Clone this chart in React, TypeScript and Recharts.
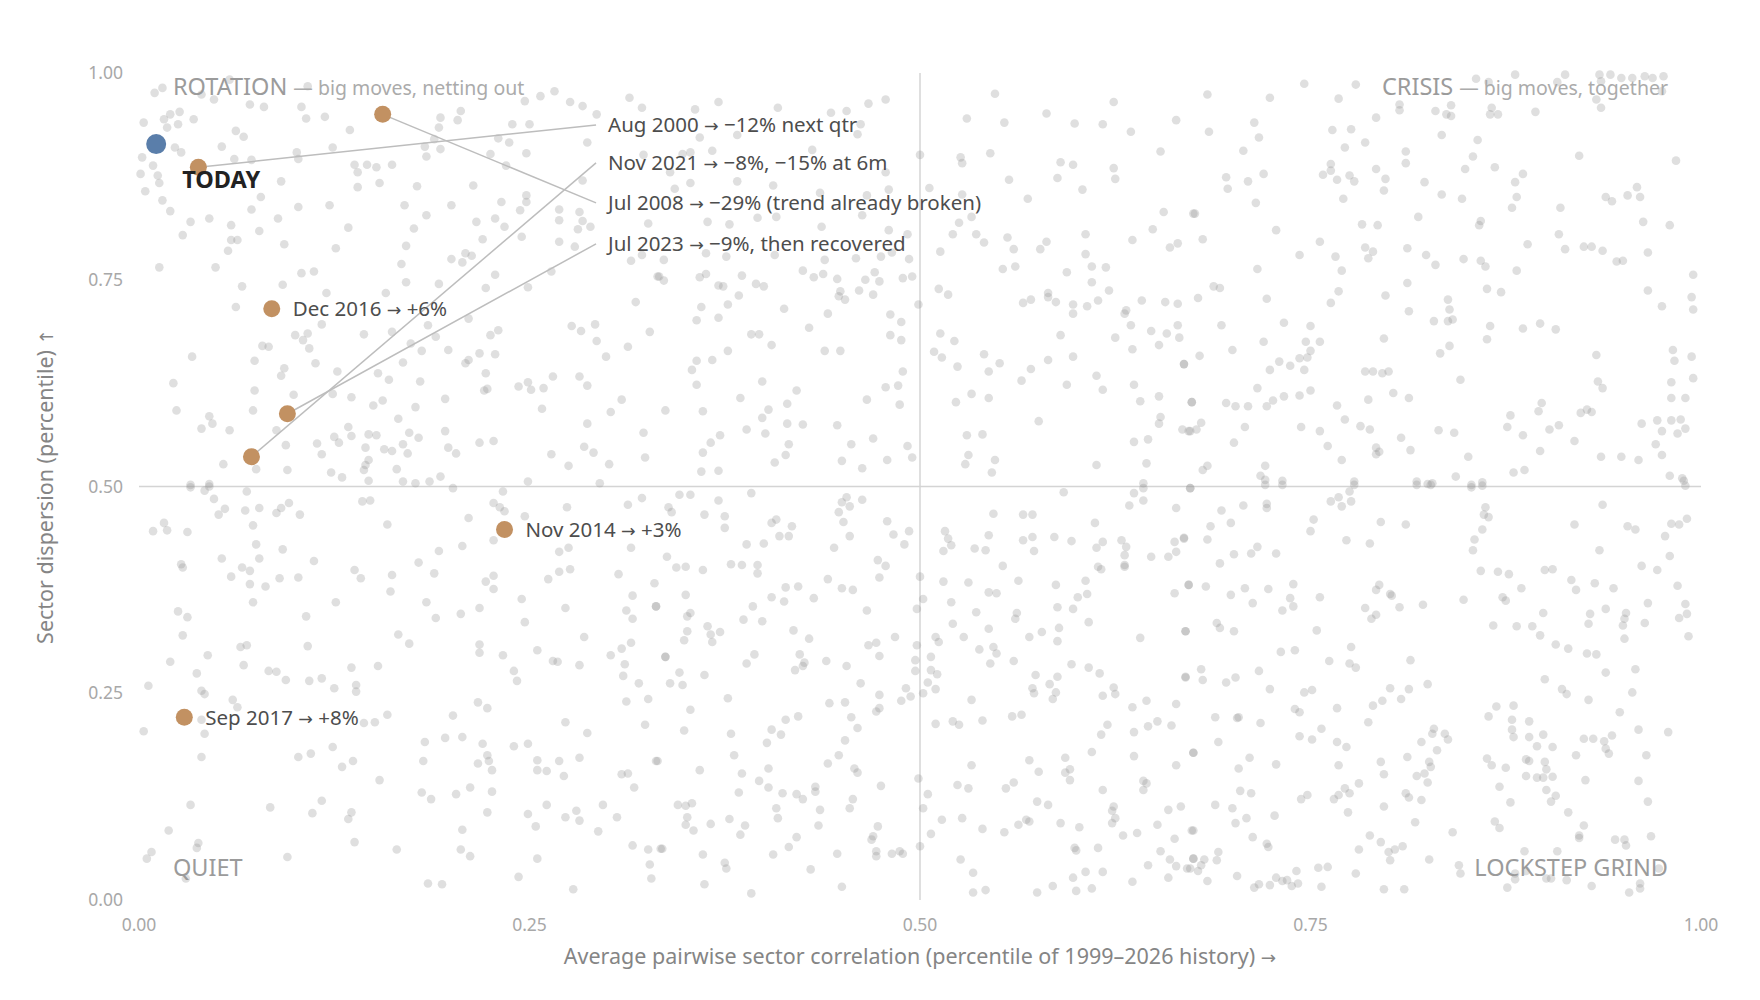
import { ReferenceLine, Scatter, ScatterChart, XAxis, YAxis } from "recharts";

const FONT = "'Segoe UI', 'Noto Sans', 'Open Sans', sans-serif";
const ARROW_FONT = "'DejaVu Sans', sans-serif";
const TAN = "#c29162";
const BLUE = "#5a7eaa";

const axisTicks = [0, 0.25, 0.5, 0.75, 1];

// history cloud: [pairwise correlation pct, dispersion pct] in thousandths, read region by region
const cloudNW = [
  [58,992],[10,976],[15,982],[40,974],[48,968],[108,984],[266,978],[257,972],[314,970],
  [71,962],[80,959],[104,959],[247,966],[276,965],[284,960],[322,958],[206,954],[26,953],[20,950],[293,950],[35,944],[16,944],[193,946],[107,945],[119,947],[3,940],[204,943],[25,938],[239,938],[250,938],
  [18,934],[62,930],[135,931],[192,934],[67,923],[189,920],[230,921],[237,916],[287,916],[53,911],[23,910],[124,910],[183,911],[193,908],[27,904],[101,904],[225,902],[248,903],[184,899],[2,898],[61,896],[72,895],[102,896],[323,901],
  [138,889],[146,889],[152,886],[162,889],[9,888],[235,888],[140,880],[1,878],[12,876],[284,870],[91,869],[154,867],[13,867],[214,864],[178,863],[140,862],[4,857],
  [248,852],[78,850],[15,846],[232,844],[248,844],[170,840],[200,840],[122,840],[102,838],[72,835],[244,834],[20,833],[269,835],[282,832],[184,828],[89,824],[228,824],[45,824],[216,820],[33,820],[269,822],[284,821],
  [59,816],[234,814],[134,813],[176,812],[289,814],[326,818],[281,811],[77,809],[28,804],[245,802],[220,799],[59,798],[63,798],[93,793],[269,796],[171,791],[279,790],[126,788],[57,785],[209,782],[213,779],[200,775],[207,771],[168,769],[315,773],[322,780],
  [13,765],[49,765],[264,760],[104,758],[112,760],[228,756],[333,754],[92,744],[66,742],[171,747],[192,745],[249,741],[222,740],[120,734],[158,734],[318,723],
  [62,717],[211,703],[117,696],[185,695],[277,694],[283,688],[292,696],[327,687],[144,684],[162,687],[230,689],[225,683],
  [100,683],[108,685],[105,677],[190,681],[293,676],[79,670],[83,669],[109,667],[174,673],[181,664],[198,665],[313,669],[34,657],[218,661],[228,660],[299,657],
  [74,652],[113,649],[169,650],[211,653],[209,649],[93,643],[127,639],[153,637],[222,637],[91,634],[160,629],[180,627],[265,633],[282,633],[22,625],[249,626],[287,622],[243,621],[259,619],[251,617],[74,616],[124,612],[223,618],[221,616],
  [99,611],[136,608],[196,606],[156,604],[309,605],[150,598],[177,596],[258,594],[24,592],[73,592],[302,590],[45,585],[166,582],[47,576],[287,576],[134,572],
  [40,570],[58,568],[88,568],[196,567],[173,565],[323,565],[125,560],[136,561],[147,563],[152,562],[179,559],[128,553],[114,552],[169,551],[94,550],[218,553],[227,555],[285,548],[145,547],[157,545],[162,543],[198,547],[291,541],[172,540],[203,540],[117,539],[264,539],[324,535],
  [54,527],[145,526],[147,532],[275,525],[301,527],[75,521],[95,520],[123,517],[144,520],[165,521],[130,511],[193,512],[147,507],[169,506],[177,504],[186,506],[249,506],[295,504],[33,502],[45,503],
];

const cloudN = [
  [371,965],[356,956],[409,958],[443,952],[453,954],[467,963],[478,968],[548,975],[624,965],[530,945],[554,940],[581,951],[599,939],[617,938],[635,929],[664,943],[359,922],[383,925],[462,938],[460,926],[353,904],[348,902],[367,906],[431,907],[340,880],[500,901],[526,898],[527,891],[545,903],[654,905],[590,892],[598,889],[624,885],[478,880],[557,871],[588,873],[625,872],[343,860],[353,867],[383,869],[406,864],[436,855],[466,852],[480,859],[506,861],[527,853],[569,848],[604,859],
  [364,820],[378,817],[396,825],[408,826],[437,814],[463,828],[480,810],[492,805],[525,819],[533,826],[521,805],[536,805],[541,795],[556,801],[560,787],[581,796],[577,787],[606,805],[606,781],[636,798],[649,811],[656,832],[660,789],[665,794],[675,830],[336,774],[363,782],[376,778],[407,780],[439,774],[459,776],[475,778],[482,783],[493,775],[513,784],
  [332,754],[336,749],[359,753],[363,757],[386,755],[425,761],[432,753],[438,757],[447,751],[465,750],[471,759],[474,748],[489,752],[495,754],[371,743],[374,742],[395,745],[400,742],[553,763],[561,766],[594,759],[610,766],[619,765],[610,747],[449,736],[461,737],[470,732],[384,731],[448,730],[452,726],[512,739],[518,732],[621,737],[566,722],[571,726],[582,734],[582,729],[587,723],[598,720],[607,718],[614,725],[642,725],[657,723],[665,721],
  [360,717],[377,720],[413,715],[499,720],[631,709],[632,713],[598,709],[357,701],[371,704],[441,709],[481,708],[488,699],[635,695],[665,695],[429,692],[392,684],[397,684],[481,683],[488,677],[513,685],[522,676],[590,683],[625,680],[648,688],[658,685],[666,680],[405,671],[653,671],[377,664],[439,664],[449,664],[509,663],[514,656],[541,660],[636,666],[598,657],
  [357,652],[367,653],[354,641],[489,639],[524,645],[551,649],[544,639],[582,653],[571,642],[669,648],[357,623],[399,627],[478,620],[486,622],[565,628],[594,623],[613,634],[617,617],[637,623],[385,607],[421,616],[466,605],[487,599],[533,612],[544,607],[523,602],[653,609],[641,603],[674,602],
  [337,592],[361,591],[403,593],[415,600],[399,583],[415,576],[425,575],[447,574],[576,579],[654,584],[653,576],[668,569],[673,567],[389,569],[401,564],[372,562],[366,553],[470,558],[456,551],[416,551],[492,549],[530,562],[540,563],[637,554],[646,557],[361,541],[414,538],[495,535],[531,538],[548,532],[450,531],[479,532],[407,529],[529,527],[613,526],[645,528],[463,522],[360,518],[371,519],[546,517],[643,504],
];

const cloudNE = [
  [881,998],[913,998],[935,998],[942,998],[856,993],[864,989],[908,989],[949,994],[956,994],[964,996],[969,994],[976,996],[936,990],[975,978],[746,987],[779,986],[684,974],[724,970],[768,969],[933,968],[807,962],[807,955],[840,961],[866,958],[936,958],[830,954],[837,950],[840,948],[865,950],[870,950],[894,953],[792,946],[714,940],[764,931],[776,932],[685,929],[717,922],[834,925],[857,919],[785,916],[772,910],[707,906],[811,905],[854,899],[922,900],
  [811,891],[763,890],[984,894],[849,884],[868,886],[792,884],[763,882],[758,877],[775,876],[696,874],[720,878],[767,871],[798,872],[778,869],[710,869],[886,878],[881,868],[823,868],[697,860],[797,858],[834,853],[882,850],[939,850],[943,845],[953,852],[959,862],[961,850],[847,848],[771,848],[715,843],[879,837],[910,837],[676,830],[819,826],[783,817],[793,816],[858,816],[859,821],[963,820],[980,816],[728,810],[909,805],
  [681,799],[756,796],[889,793],[925,790],[930,790],[913,787],[937,785],[966,783],[785,789],[790,784],[812,788],[743,780],[766,778],[787,776],[824,780],[848,775],[859,773],[862,766],[830,768],[946,772],[950,773],[716,763],[770,761],[882,761],[995,756],[812,746],[688,742],[692,740],[768,736],[863,739],[872,735],[966,737],[678,728],[722,727],[798,731],[838,726],[994,729],[763,722],[975,718],[839,714],[813,712],[995,714],
  [829,700],[838,700],[841,702],[733,698],[750,694],[693,695],[865,694],[886,691],[897,697],[907,690],[797,679],[720,675],[747,675],[756,675],[863,678],[700,665],[750,664],[982,665],[669,648],[679,658],[839,670],[833,661],[933,659],[983,652],[994,657],[743,655],[748,656],[730,651],[737,646],[724,641],[746,641],[785,639],[790,639],[796,637],[800,639],[846,629],[934,627],[937,619],[995,631],[981,626],[716,619],[803,613],[750,616],
  [674,602],[696,601],[702,597],[710,597],[722,597],[726,604],[733,609],[743,610],[787,605],[813,607],[898,601],[896,591],[981,607],[990,607],[767,598],[923,589],[927,593],[930,590],[878,586],[672,567],[677,569],[680,577],[708,572],[744,572],[756,567],[772,581],[782,573],[788,569],[832,568],[842,565],[876,572],[886,562],[903,569],[909,574],[962,576],[972,580],[981,580],[987,581],[975,567],[985,564],[990,570],
  [808,559],[919,555],[701,553],[761,549],[792,547],[792,539],[794,542],[814,544],[897,543],[971,551],[975,538],[851,536],[936,536],[949,536],[960,532],[770,532],[681,520],[684,525],[721,525],[880,517],[887,520],[980,513],[988,510],[718,513],[721,508],[732,507],[778,506],[818,506],[825,503],[828,504],[843,512],[860,505],[853,502],[989,507],
];

const cloudSW = [
  [33,499],[42,495],[45,500],[69,494],[48,485],[55,473],[51,466],[68,471],[77,474],[91,474],[88,468],[96,480],[103,466],[16,456],[9,446],[18,447],[31,445],[73,453],[143,482],[148,483],[159,454],[233,494],[227,480],[231,475],[234,470],[211,462],[247,464],[201,498],[274,475],[313,478],[322,486],[227,435],[75,430],[92,424],[207,428],[192,422],[269,421],[275,426],[315,426],
  [53,413],[77,413],[112,410],[179,408],[27,406],[28,402],[66,402],[71,398],[138,399],[142,389],[162,393],[189,395],[227,392],[222,385],[227,376],[262,388],[269,397],[276,400],[307,394],[330,383],[59,391],[71,382],[90,389],[102,390],[81,379],[161,373],[73,360],[126,360],[184,360],[245,364],[316,368],[218,353],[273,353],[331,355],[25,349],[31,342],[107,343],[190,341],[206,346],[247,336],[312,350],[316,340],
  [28,320],[166,321],[173,310],[285,318],[65,306],[69,308],[108,307],[218,309],[218,299],[233,296],[255,302],[265,289],[268,288],[282,284],[302,296],[309,304],[315,311],[311,285],[337,294],[44,296],[20,288],[67,284],[136,281],[153,283],[83,277],[88,276],[37,274],[240,277],[242,265],[310,271],[320,262],[6,259],[94,266],[109,265],[117,268],[125,256],[139,260],[139,252],[40,253],[42,249],[60,242],[63,233],[217,239],[223,232],[312,240],[326,243],
  [3,204],[40,218],[42,201],[144,214],[151,215],[159,224],[201,223],[273,215],[287,202],[324,212],[183,191],[196,196],[207,197],[220,189],[240,186],[249,189],[40,173],[102,173],[110,177],[124,185],[130,161],[137,168],[182,168],[223,175],[224,168],[217,165],[226,157],[255,169],[269,168],[282,172],[332,168],[255,157],[261,156],[272,150],[309,152],[313,153],
  [154,145],[212,136],[317,136],[181,130],[187,122],[203,128],[226,131],[117,120],[33,115],[84,112],[261,115],[297,115],[111,105],[136,106],[134,98],[223,106],[249,104],[273,100],[280,108],[282,96],[306,100],[254,89],[19,84],[207,85],[294,83],[138,70],[38,69],[37,63],[165,61],[206,61],[316,66],[326,61],[335,62],[8,58],[5,50],[95,52],[212,53],[255,50],[327,43],[30,26],[243,28],[328,26],[185,20],[194,19],[278,13],
];

const cloudS = [
  [346,490],[353,490],[392,492],[371,483],[339,475],[341,469],[362,466],[375,464],[375,450],[408,460],[405,456],[418,452],[410,440],[416,440],[389,430],[400,431],[453,487],[450,481],[455,476],[463,484],[448,469],[451,457],[455,440],[479,458],[483,442],[493,446],[490,430],[445,426],[338,415],[344,402],[350,403],[361,399],[379,406],[386,405],[396,405],[396,395],[473,411],[478,404],[474,390],[441,388],[450,377],[457,375],[414,378],[422,379],[350,369],[405,366],[413,361],[432,365],[393,355],[466,350],[331,355],
  [351,343],[353,347],[387,339],[399,337],[364,331],[366,321],[372,324],[351,325],[349,314],[367,312],[419,326],[429,316],[484,318],[467,308],[472,311],[474,295],[337,294],[394,297],[389,286],[423,297],[426,287],[425,283],[420,278],[440,289],[453,283],[346,275],[362,272],[340,262],[348,260],[462,262],[377,244],[353,230],[442,238],[452,239],[474,248],[491,256],[494,246],[488,241],[472,228],[474,232],[456,221],[460,208],[414,218],[422,222],[405,206],[411,200],[349,205],[379,201],
  [402,190],[452,193],[381,175],[448,175],[441,165],[331,168],[359,157],[386,153],[403,159],[458,159],[460,154],[397,144],[403,136],[433,137],[433,131],[475,138],[384,130],[412,129],[421,128],[425,122],[345,115],[350,114],[354,117],[457,122],[408,111],[436,109],[455,111],[351,100],[378,98],[366,92],[350,91],[355,84],[388,90],[409,99],[435,90],[473,89],[385,79],[470,77],[469,73],[421,76],[334,62],[416,64],[472,59],[472,53],[447,56],[482,56],[487,59],[489,56],[361,55],[406,55],[375,45],[376,38],[430,37],[362,19],[450,16],[392,8],
  [592,493],[637,492],[643,498],[643,483],[634,477],[664,474],[673,498],[547,467],[566,466],[572,466],[612,456],[516,446],[518,437],[520,429],[515,422],[544,441],[535,425],[542,423],[566,435],[572,439],[573,422],[586,439],[597,434],[613,426],[617,433],[629,435],[632,427],[631,417],[648,415],[663,433],[669,438],[664,421],[659,415],[553,404],[614,403],[616,400],[631,405],[631,403],[500,391],[515,385],[531,384],[563,386],[587,381],[606,386],[672,381],[544,372],[549,371],[601,366],[607,370],[663,371],[502,364],[520,360],[498,352],[536,348],[562,347],[561,340],[588,354],[598,352],
  [521,334],[608,336],[544,328],[578,324],[589,329],[510,318],[512,312],[528,318],[570,318],[588,313],[641,317],[670,325],[498,308],[538,303],[547,306],[549,298],[507,294],[497,290],[545,286],[560,289],[597,285],[608,281],[615,274],[497,277],[507,278],[511,273],[574,272],[588,270],[670,269],[505,263],[502,250],[510,255],[572,256],[573,250],[583,261],[587,251],[585,243],[617,247],[624,257],[625,249],[533,242],[636,233],[645,241],[664,237],[510,213],[521,216],[525,212],[540,217],[559,222],[565,224],[620,212],[616,200],[637,203],[646,210],[652,216],[661,211],
  [610,179],[637,174],[675,178],[533,163],[570,169],[593,172],[576,155],[593,154],[596,158],[596,145],[664,163],[499,147],[524,139],[531,135],[555,135],[560,142],[617,133],[643,144],[645,141],[643,133],[505,128],[502,111],[575,119],[582,115],[624,113],[623,108],[659,109],[667,113],[514,97],[527,99],[568,97],[570,95],[590,93],[602,88],[625,99],[623,93],[652,91],[540,86],[554,82],[563,91],[507,80],[630,78],[639,81],[674,84],[663,74],[500,65],[599,63],[600,60],[614,63],[654,59],[526,49],[660,49],[664,41],[673,38],[675,50],[646,42],[534,33],[606,34],[617,34],[598,27],[659,27],[585,17],[636,22],[534,9],[542,12],[575,9],[600,11],[610,14],
];

const cloudSE = [
  [673,498],[721,502],[732,502],[778,502],[818,502],[827,502],[853,499],[860,501],[990,501],[693,471],[707,477],[722,479],[722,474],[763,482],[768,487],[770,476],[775,494],[776,482],[686,452],[699,456],[752,460],[750,446],[795,457],[811,454],[862,475],[861,466],[864,463],[860,448],[937,478],[919,454],[953,452],[958,448],[981,455],[986,454],[991,461],[977,440],[684,436],[669,437],[773,435],[788,431],[855,436],[854,423],[935,423],[980,416],[692,407],[701,418],[712,419],[716,427],[728,419],[859,398],[870,397],[877,394],[900,399],[905,400],[962,404],[972,399],
  [672,381],[683,379],[708,377],[723,376],[739,382],[737,365],[792,375],[794,381],[801,370],[802,368],[807,354],[822,357],[848,363],[873,366],[875,362],[885,377],[917,387],[920,375],[932,383],[944,377],[985,380],[699,369],[713,359],[732,350],[739,355],[756,366],[785,353],[792,345],[789,340],[690,335],[692,329],[701,325],[670,325],[754,326],[867,332],[882,331],[892,331],[897,320],[899,347],[929,346],[928,334],[939,352],[952,347],[951,340],[950,332],[951,316],[964,335],[966,359],[990,358],[991,346],[986,341],[992,319],
  [731,300],[740,302],[776,306],[762,289],[775,286],[779,281],[814,290],[907,309],[915,304],[927,298],[933,297],[939,275],[958,279],[680,279],[681,266],[670,270],[696,263],[702,269],[717,277],[724,255],[746,251],[751,254],[801,256],[813,255],[825,261],[900,267],[911,255],[914,249],[928,242],[956,251],[689,221],[703,220],[704,221],[718,214],[740,231],[743,227],[767,232],[790,235],[796,241],[808,243],[787,215],[869,234],[880,235],[864,222],[879,218],[890,216],[879,206],[880,197],[948,227],[960,206],[979,203],
  [691,191],[675,178],[743,198],[751,194],[757,207],[767,191],[773,185],[829,207],[828,201],[836,201],[838,194],[821,191],[831,181],[890,197],[899,200],[895,186],[905,185],[925,195],[931,195],[938,192],[943,199],[939,183],[941,177],[920,175],[965,175],[711,172],[728,164],[704,159],[768,163],[795,167],[797,152],[812,173],[826,167],[827,161],[823,153],[818,150],[825,142],[863,171],[866,163],[875,160],[888,170],[890,168],[900,167],[901,158],[888,150],[895,148],[899,148],[905,149],[926,145],[960,144],
  [705,132],[712,129],[748,127],[744,122],[772,135],[775,129],[768,127],[765,122],[781,141],[811,129],[813,124],[821,121],[871,137],[901,133],[907,126],[904,119],[878,118],[966,119],[689,115],[700,111],[702,93],[709,99],[727,102],[774,106],[797,113],[817,94],[868,95],[871,87],[915,106],[925,90],[922,78],[922,75],[675,84],[713,76],[722,68],[723,64],[788,78],[795,70],[781,61],[800,58],[804,61],[809,65],[841,82],[945,73],[951,73],[952,66],[968,77],
  [691,58],[675,50],[682,49],[690,48],[680,42],[678,35],[671,38],[801,48],[826,49],[887,59],[908,59],[845,42],[846,32],[888,35],[881,32],[881,25],[901,26],[904,26],[914,24],[973,38],[684,23],[703,29],[728,27],[732,23],[735,24],[741,35],[742,20],[738,17],[724,18],[717,19],[714,15],[755,39],[761,40],[779,32],[757,16],[797,13],[810,13],[876,15],[930,17],[961,20],[961,14],[954,9],
];

const today = [{ x: 0.011, y: 0.914, label: "TODAY" }];

// analogues labelled right next to their dot
const directAnalogues = [
  { x: 0.085, y: 0.715, label: "Dec 2016 → +6%" },
  { x: 0.234, y: 0.448, label: "Nov 2014 → +3%" },
  { x: 0.029, y: 0.221, label: "Sep 2017 → +8%" },
];

// analogues whose labels sit in the stack at the top
const calloutAnalogues = [
  { x: 0.038, y: 0.886, label: "Aug 2000 → −12% next qtr" },
  { x: 0.156, y: 0.95, label: "Jul 2008 → −29% (trend already broken)" },
  { x: 0.072, y: 0.536, label: "Nov 2021 → −8%, −15% at 6m" },
  { x: 0.095, y: 0.588, label: "Jul 2023 → −9%, then recovered" },
];

// label anchors for the stack, same order as calloutAnalogues
const calloutAnchors = [
  { x: 0.2926, y: 0.9372 },
  { x: 0.2926, y: 0.8429 },
  { x: 0.2926, y: 0.8913 },
  { x: 0.2926, y: 0.7934 },
];

const quadrants = [
  { x: 0, y: 1, name: "ROTATION", note: "— big moves, netting out" },
  { x: 1, y: 1, name: "CRISIS", note: "— big moves, together" },
  { x: 0, y: 0, name: "QUIET", note: "" },
  { x: 1, y: 0, name: "LOCKSTEP GRIND", note: "" },
];

const cloud = [...cloudNW, ...cloudN, ...cloudNE, ...cloudSW, ...cloudS, ...cloudSE].map(([x, y]) => ({
  x: x / 1000,
  y: y / 1000,
}));

const calloutLabels = calloutAnchors.map((a, i) => ({ ...a, label: calloutAnalogues[i].label }));

const fmt = (v: number) => v.toFixed(2);

// arrows get their own font so they come out full width
function withArrows(text: string) {
  return text.split(/([→↑])/).map((part, i) =>
    part === "→" || part === "↑" ? (
      <tspan key={i} fontFamily={ARROW_FONT} fontSize="0.85em">
        {part}
      </tspan>
    ) : (
      part
    )
  );
}

function CloudDot(p: any) {
  return <circle cx={p.cx} cy={p.cy} r={4.3} fill="#959595" fillOpacity={0.3} />;
}

function Empty() {
  return <g />;
}

function TanDot(p: any) {
  return <circle cx={p.cx} cy={p.cy} r={8.5} fill={TAN} />;
}

function LabelledTanDot(p: any) {
  return (
    <g>
      <circle cx={p.cx} cy={p.cy} r={8.5} fill={TAN} />
      <text x={p.cx + 21} y={p.cy} dy="0.36em" fontSize={20.5} fill="#4d4d4d" fontFamily={FONT}>
        {withArrows(p.payload.label)}
      </text>
    </g>
  );
}

function CalloutText(p: any) {
  return (
    <text x={p.cx + 12} y={p.cy} dy="0.36em" fontSize={20.5} fill="#4d4d4d" fontFamily={FONT}>
      {withArrows(p.payload.label)}
    </text>
  );
}

function TodayDot(p: any) {
  return (
    <g>
      <circle cx={p.cx} cy={p.cy} r={11} fill={BLUE} stroke="#fff" strokeWidth={2} />
      <text x={p.cx + 26} y={p.cy + 44} fontSize={23.5} fontWeight={700} fill="#222" fontFamily={FONT}>
        {p.payload.label}
      </text>
    </g>
  );
}

function QuadrantLabel(p: any) {
  const d = p.payload;
  const left = d.x === 0;
  const top = d.y === 1;
  return (
    <text
      x={left ? p.cx + 34 : p.cx - 33}
      y={top ? p.cy + 22 : p.cy - 24}
      textAnchor={left ? "start" : "end"}
      fontFamily={FONT}
    >
      <tspan fontSize={23.5} fill="#9b9b9b">
        {d.name}
      </tspan>
      {d.note && (
        <tspan fontSize={19.5} fill="#ababab" dx={6}>
          {d.note}
        </tspan>
      )}
    </text>
  );
}

function XTitle(p: any) {
  const vb = p.viewBox;
  return (
    <text x={vb.x + vb.width / 2} y={vb.y + 64} textAnchor="middle" fontSize={21.5} fill="#858585" fontFamily={FONT}>
      {withArrows("Average pairwise sector correlation (percentile of 1999–2026 history) →")}
    </text>
  );
}

function YTitle(p: any) {
  const vb = p.viewBox;
  return (
    <text
      transform={`translate(${vb.x + 37},${vb.y + vb.height / 2}) rotate(-90)`}
      textAnchor="middle"
      dy="0.35em"
      fontSize={21.5}
      fill="#858585"
      fontFamily={FONT}
    >
      {withArrows("Sector dispersion (percentile) ↑")}
    </text>
  );
}

export default function App() {
  return (
    <div style={{ width: 1744, height: 984, background: "#fff", fontFamily: FONT }}>
      <ScatterChart width={1744} height={984} margin={{ top: 65, right: 51, bottom: 0, left: 0 }}>
        <XAxis
          type="number"
          dataKey="x"
          domain={[0, 1]}
          ticks={axisTicks}
          tickFormatter={fmt}
          axisLine={false}
          tickLine={false}
          tickMargin={13}
          height={92}
          tick={{ fill: "#a8a8a8", fontSize: 17.5, fontFamily: FONT }}
          label={<XTitle />}
        />
        <YAxis
          type="number"
          dataKey="y"
          domain={[0, 1]}
          ticks={axisTicks}
          tickFormatter={fmt}
          axisLine={false}
          tickLine={false}
          tickMargin={10}
          width={131}
          tick={{ fill: "#a8a8a8", fontSize: 17.5, fontFamily: FONT }}
          label={<YTitle />}
        />
        <ReferenceLine x={0.5} stroke="#d4d4d4" strokeWidth={1.5} />
        <ReferenceLine y={0.5} stroke="#d4d4d4" strokeWidth={1.5} />
        <Scatter data={cloud} shape={CloudDot} isAnimationActive={false} />
        <Scatter data={quadrants} shape={QuadrantLabel} isAnimationActive={false} />
        {calloutAnalogues.map((a, i) => (
          <Scatter
            key={a.label}
            data={[a, calloutAnchors[i]]}
            line={{ stroke: "#bdbdbd", strokeWidth: 1.5 }}
            shape={Empty}
            isAnimationActive={false}
          />
        ))}
        <Scatter data={calloutAnalogues} shape={TanDot} isAnimationActive={false} />
        <Scatter data={directAnalogues} shape={LabelledTanDot} isAnimationActive={false} />
        <Scatter data={calloutLabels} shape={CalloutText} isAnimationActive={false} />
        <Scatter data={today} shape={TodayDot} isAnimationActive={false} />
      </ScatterChart>
    </div>
  );
}
